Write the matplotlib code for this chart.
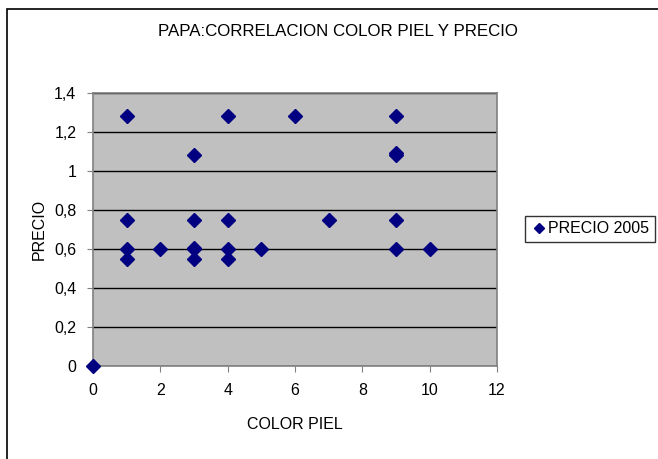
import matplotlib
matplotlib.use("Agg")
import matplotlib.pyplot as plt
from matplotlib.patches import Rectangle

plt.rcParams["font.family"] = ["Liberation Sans", "DejaVu Sans"]

# color de piel (x) y precio (y)
color_piel = [0, 1, 1, 1, 1, 2, 3, 3, 3, 3, 3, 4, 4, 4, 4, 5, 6, 7, 9, 9, 9, 9, 9, 10]
precio = [0, 1.28, 0.75, 0.60, 0.55, 0.60, 1.08, 0.75, 0.60, 0.605, 0.55,
          1.28, 0.75, 0.60, 0.55, 0.60, 1.28, 0.75, 1.28, 1.08, 1.09, 0.75, 0.60, 0.60]
x_ticks = [0, 2, 4, 6, 8, 10, 12]
y_ticks = [0, 0.2, 0.4, 0.6, 0.8, 1.0, 1.2, 1.4]
y_labels = ["0", "0,2", "0,4", "0,6", "0,8", "1", "1,2", "1,4"]

W, H = 658, 459
fig = plt.figure(figsize=(W / 100, H / 100), dpi=100)

# outer chart frame
fig.patches.append(Rectangle((7 / W, -0.1), 1.2, 1 - 9 / H + 0.1,
                             transform=fig.transFigure, fill=False,
                             edgecolor="black", linewidth=1.2))

ax = fig.add_axes([93 / W, (H - 366) / H, 404 / W, 273 / H])
ax.set_facecolor("#C0C0C0")
ax.set_xlim(0, 12)
ax.set_ylim(0, 1.4)
ax.set_xticks(x_ticks)
ax.set_yticks(y_ticks)
ax.set_yticklabels(y_labels)
ax.grid(axis="y", color="black", linewidth=1)
ax.set_axisbelow(True)
for side in ax.spines.values():
    side.set_color("#808080")
    side.set_linewidth(1.2)
ax.tick_params(direction="out", length=4, color="#808080", labelsize=11.5,
               pad=8)

ax.plot(color_piel, precio, linestyle="none", marker="D", markersize=7.5,
        color="#000080", clip_on=False, zorder=5, label="PRECIO 2005")

ax.set_xlabel("COLOR PIEL", fontsize=11.5, labelpad=14)
ax.set_ylabel("PRECIO", fontsize=11.5, labelpad=5)
fig.text(338 / W, 1 - 32 / H, "PAPA:CORRELACION COLOR PIEL Y PRECIO",
         ha="center", va="center", fontsize=12.2)

leg = ax.legend(loc="center left", bbox_to_anchor=(525 / W, 1 - 229 / H),
                bbox_transform=fig.transFigure, fontsize=11.5, frameon=True,
                fancybox=False, borderpad=0.35, handletextpad=0.1,
                handlelength=1.0, markerscale=0.7, borderaxespad=0)
leg.get_frame().set_edgecolor("black")
leg.get_frame().set_linewidth(1)

fig.savefig("out.png", dpi=100, facecolor="white")
